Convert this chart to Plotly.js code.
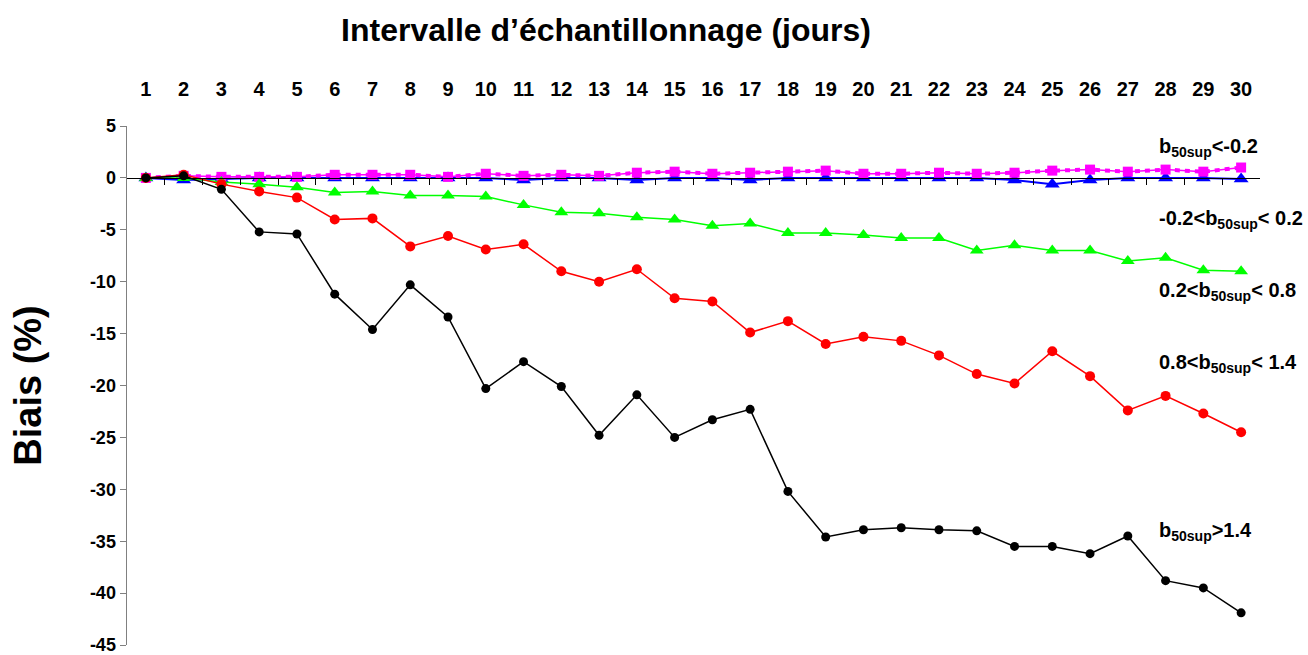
<!DOCTYPE html>
<html>
<head>
<meta charset="utf-8">
<script src="https://cdn.plot.ly/plotly-3.0.1.min.js"></script>
<style>html,body{margin:0;padding:0;background:#fff}#chart{width:1308px;height:655px}</style>
</head>
<body>
<div id="chart"></div>
<script>
const days = [1,2,3,4,5,6,7,8,9,10,11,12,13,14,15,16,17,18,19,20,21,22,23,24,25,26,27,28,29,30];
const seriesLtNeg02 = [0,0.2,0.1,0.1,0.1,0.3,0.3,0.3,0.1,0.4,0.2,0.3,0.2,0.5,0.6,0.4,0.5,0.6,0.7,0.4,0.4,0.5,0.4,0.5,0.7,0.8,0.6,0.8,0.6,1.0];
const seriesNeg02to02 = [0,-0.2,-0.1,0,0,0,0,0,0,0,-0.2,0,0,-0.2,0,0,-0.2,0,0,0,0,0,0,-0.2,-0.6,-0.2,0,0,0,-0.1];
const series02to08 = [0,0,-0.4,-0.6,-0.9,-1.4,-1.3,-1.7,-1.7,-1.8,-2.6,-3.3,-3.4,-3.8,-4.0,-4.6,-4.4,-5.3,-5.3,-5.5,-5.8,-5.8,-7.0,-6.5,-7.0,-7.0,-8.0,-7.7,-8.9,-9.0];
const series08to14 = [0,0.3,-0.6,-1.3,-1.9,-4.0,-3.9,-6.6,-5.6,-6.9,-6.4,-9.0,-10.0,-8.8,-11.6,-11.9,-14.9,-13.8,-16.0,-15.3,-15.7,-17.1,-18.9,-19.8,-16.7,-19.1,-22.4,-21.0,-22.7,-24.5];
const seriesGt14 = [0,0.2,-1.1,-5.2,-5.4,-11.2,-14.6,-10.3,-13.4,-20.3,-17.7,-20.1,-24.8,-20.9,-25.0,-23.3,-22.3,-30.2,-34.6,-33.9,-33.7,-33.9,-34.0,-35.5,-35.5,-36.2,-34.5,-38.8,-39.5,-41.9];
const yTicks = [5,0,-5,-10,-15,-20,-25,-30,-35,-40,-45];
const seriesLabels = [
  'b<sub>50sup</sub>&lt;-0.2',
  '-0.2&lt;b<sub>50sup</sub>&lt; 0.2',
  '0.2&lt;b<sub>50sup</sub>&lt; 0.8',
  '0.8&lt;b<sub>50sup</sub>&lt; 1.4',
  'b<sub>50sup</sub>&gt;1.4'
];

const FONT = 'Arial, "Liberation Sans", sans-serif';
const boundaries = days.map(d => d - 0.5).concat([days[days.length-1] + 0.5]);

const traces = [
  {x: days, y: seriesNeg02to02, mode: 'lines+markers', line: {color: '#0000FF', width: 2},
   marker: {symbol: 'triangle-up', size: 13, color: '#0000FF'}},
  {x: days, y: seriesLtNeg02, mode: 'lines', line: {color: '#FF00FF', width: 4, dash: '5px,5px'}},
  {x: days, y: seriesLtNeg02, mode: 'lines+markers', line: {color: '#FF00FF', width: 1.5},
   marker: {symbol: 'square', size: 10, color: '#FF00FF'}},
  {x: days, y: series02to08, mode: 'lines+markers', line: {color: '#00FF00', width: 1.5},
   marker: {symbol: 'triangle-up', size: 12, color: '#00FF00'}},
  {x: days, y: series08to14, mode: 'lines+markers', line: {color: '#FF0000', width: 1.5},
   marker: {symbol: 'circle', size: 10, color: '#FF0000'}},
  {x: days, y: seriesGt14, mode: 'lines+markers', line: {color: '#000000', width: 1.5},
   marker: {symbol: 'circle', size: 9, color: '#000000'}}
];

const plotL = 127, plotR = 1260, plotT = 126, plotB = 645;
const labelPix = [[1157,147],[1157,219],[1157,291],[1157,363],[1157,531]];
const annotations = seriesLabels.map((t, i) => ({
  text: t, xref: 'paper', yref: 'paper',
  x: (labelPix[i][0] - plotL) / (plotR - plotL),
  y: (plotB - labelPix[i][1]) / (plotB - plotT),
  xanchor: 'left', yanchor: 'middle', showarrow: false,
  font: {family: FONT, size: 20, color: '#000', weight: 700}
}));

const layout = {
  width: 1308, height: 655,
  margin: {l: plotL, r: 1308 - plotR, t: plotT, b: 655 - plotB, pad: 0},
  paper_bgcolor: '#fff', plot_bgcolor: '#fff',
  showlegend: false,
  title: {text: 'Intervalle d’échantillonnage (jours)', x: 606/1308, xref: 'container', xanchor: 'center',
          y: 1 - 30/655, yref: 'container', yanchor: 'middle',
          font: {family: FONT, size: 32, color: '#000', weight: 700}},
  xaxis: {
    range: [0.5, 30.5], side: 'top', anchor: 'free', position: 0.9,
    tickmode: 'array', tickvals: days, ticktext: days.map(String),
    ticks: 'inside', ticklen: 0, showline: true, linecolor: '#000', linewidth: 1,
    showgrid: false, zeroline: false, ticklabelstandoff: 74,
    tickfont: {family: FONT, size: 20, color: '#000', weight: 700},
    minor: {tickmode: 'array', tickvals: boundaries, ticks: 'inside', ticklen: 6, tickcolor: '#000', showgrid: false}
  },
  yaxis: {
    range: [-45, 5], tickmode: 'array', tickvals: yTicks, ticktext: yTicks.map(String),
    ticks: 'outside', ticklen: 6, tickcolor: '#808080', showline: true, linecolor: '#808080', linewidth: 1.5,
    showgrid: false, zeroline: false, ticklabeloverflow: 'allow',
    tickfont: {family: FONT, size: 18, color: '#000', weight: 700},
    title: {text: 'Biais (%)', standoff: 36, font: {family: FONT, size: 38, color: '#000', weight: 700}}
  },
  annotations: annotations
};

Plotly.newPlot('chart', traces, layout, {displayModeBar: false, staticPlot: true});
</script>
</body>
</html>
